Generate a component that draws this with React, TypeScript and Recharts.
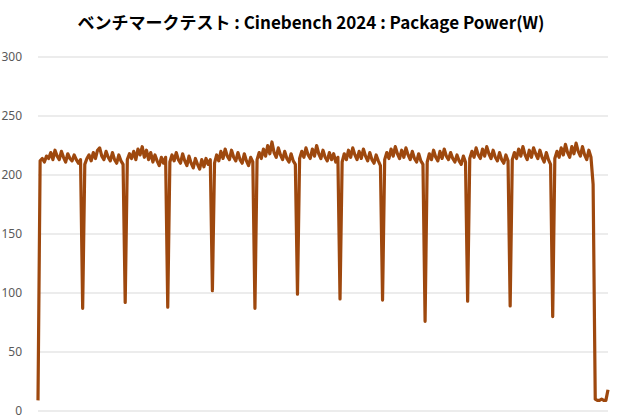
import React from "react";
import { LineChart, Line, XAxis, YAxis, CartesianGrid } from "recharts";

const TITLE = "ベンチマークテスト : Cinebench 2024 : Package Power(W)";
const Y_TICKS = [0, 50, 100, 150, 200, 250, 300];

const START = [9, 212];
const CYCLE_A = [214, 211, 216, 214, 219, 213, 221, 216, 213, 220, 215, 211, 218, 214, 212, 217, 213, 210, 213, 87];
const CYCLE_B = [209, 214, 217, 212, 219, 214, 221, 223, 216, 213, 220, 215, 212, 219, 213, 210, 217, 212, 209, 92];
const CYCLE_C = [213, 218, 214, 220, 213, 222, 217, 224, 215, 221, 213, 219, 211, 217, 212, 208, 215, 210, 215, 88];
const CYCLE_D = [211, 217, 212, 219, 213, 210, 218, 212, 208, 216, 210, 206, 214, 209, 205, 213, 207, 214, 209, 213, 102];
const CYCLE_E = [210, 217, 212, 220, 214, 222, 216, 213, 221, 215, 212, 219, 213, 210, 218, 212, 208, 215, 211, 87];
const CYCLE_F = [213, 219, 214, 222, 216, 225, 218, 228, 219, 215, 223, 217, 213, 220, 214, 211, 218, 212, 209, 99];
const CYCLE_G = [214, 220, 215, 223, 217, 214, 222, 216, 225, 218, 214, 221, 215, 212, 219, 213, 218, 211, 215, 95];
const CYCLE_H = [211, 218, 213, 221, 215, 223, 217, 213, 220, 214, 222, 216, 212, 219, 213, 210, 217, 212, 208, 94];
const CYCLE_I = [213, 219, 214, 222, 216, 224, 218, 214, 221, 215, 223, 217, 213, 220, 214, 211, 218, 212, 209, 76];
const CYCLE_J = [211, 218, 213, 221, 215, 212, 220, 214, 222, 216, 213, 219, 214, 211, 217, 212, 209, 216, 211, 93];
const CYCLE_K = [214, 220, 215, 223, 217, 214, 222, 216, 224, 218, 214, 221, 215, 212, 219, 213, 210, 217, 212, 89];
const CYCLE_L = [213, 219, 214, 222, 216, 224, 217, 213, 221, 215, 223, 218, 214, 221, 215, 211, 219, 213, 209, 80];
const CYCLE_M = [214, 220, 215, 223, 217, 226, 219, 215, 224, 218, 227, 220, 216, 224, 217, 213, 221, 215, 192];
const END = [10, 9, 9, 10, 9, 9, 18];

const POWER = [
  ...START, ...CYCLE_A, ...CYCLE_B, ...CYCLE_C, ...CYCLE_D, ...CYCLE_E, ...CYCLE_F,
  ...CYCLE_G, ...CYCLE_H, ...CYCLE_I, ...CYCLE_J, ...CYCLE_K, ...CYCLE_L, ...CYCLE_M, ...END,
];

const data = POWER.map((w, i) => ({ t: i, w }));

export default function App() {
  return (
    <div style={{ position: "absolute", left: 0, top: 0, width: 620, height: 420, background: "#fff" }}>
      <div
        style={{
          position: "absolute",
          left: 0,
          top: 10,
          width: 622,
          textAlign: "center",
          fontFamily: '"Noto Sans CJK JP", "Noto Sans", sans-serif',
          fontWeight: 700,
          fontSize: 17,
          lineHeight: "24px",
          color: "#000",
        }}
      >
        {TITLE}
      </div>
      <LineChart width={620} height={420} data={data} margin={{ top: 57, right: 12, bottom: 9, left: 0 }}>
        <CartesianGrid horizontal vertical={false} stroke="#d9d9d9" strokeWidth={1} />
        <XAxis dataKey="t" hide />
        <YAxis
          width={38}
          domain={[0, 300]}
          ticks={Y_TICKS}
          axisLine={false}
          tickLine={false}
          tickMargin={10}
          tick={{ fill: "#595959", fontSize: 12, fontFamily: '"Noto Sans", sans-serif' }}
          interval={0}
        />
        <Line
          type="linear"
          dataKey="w"
          stroke="#9E480E"
          strokeWidth={3.2}
          dot={false}
          isAnimationActive={false}
          strokeLinejoin="round"
        />
      </LineChart>
    </div>
  );
}
